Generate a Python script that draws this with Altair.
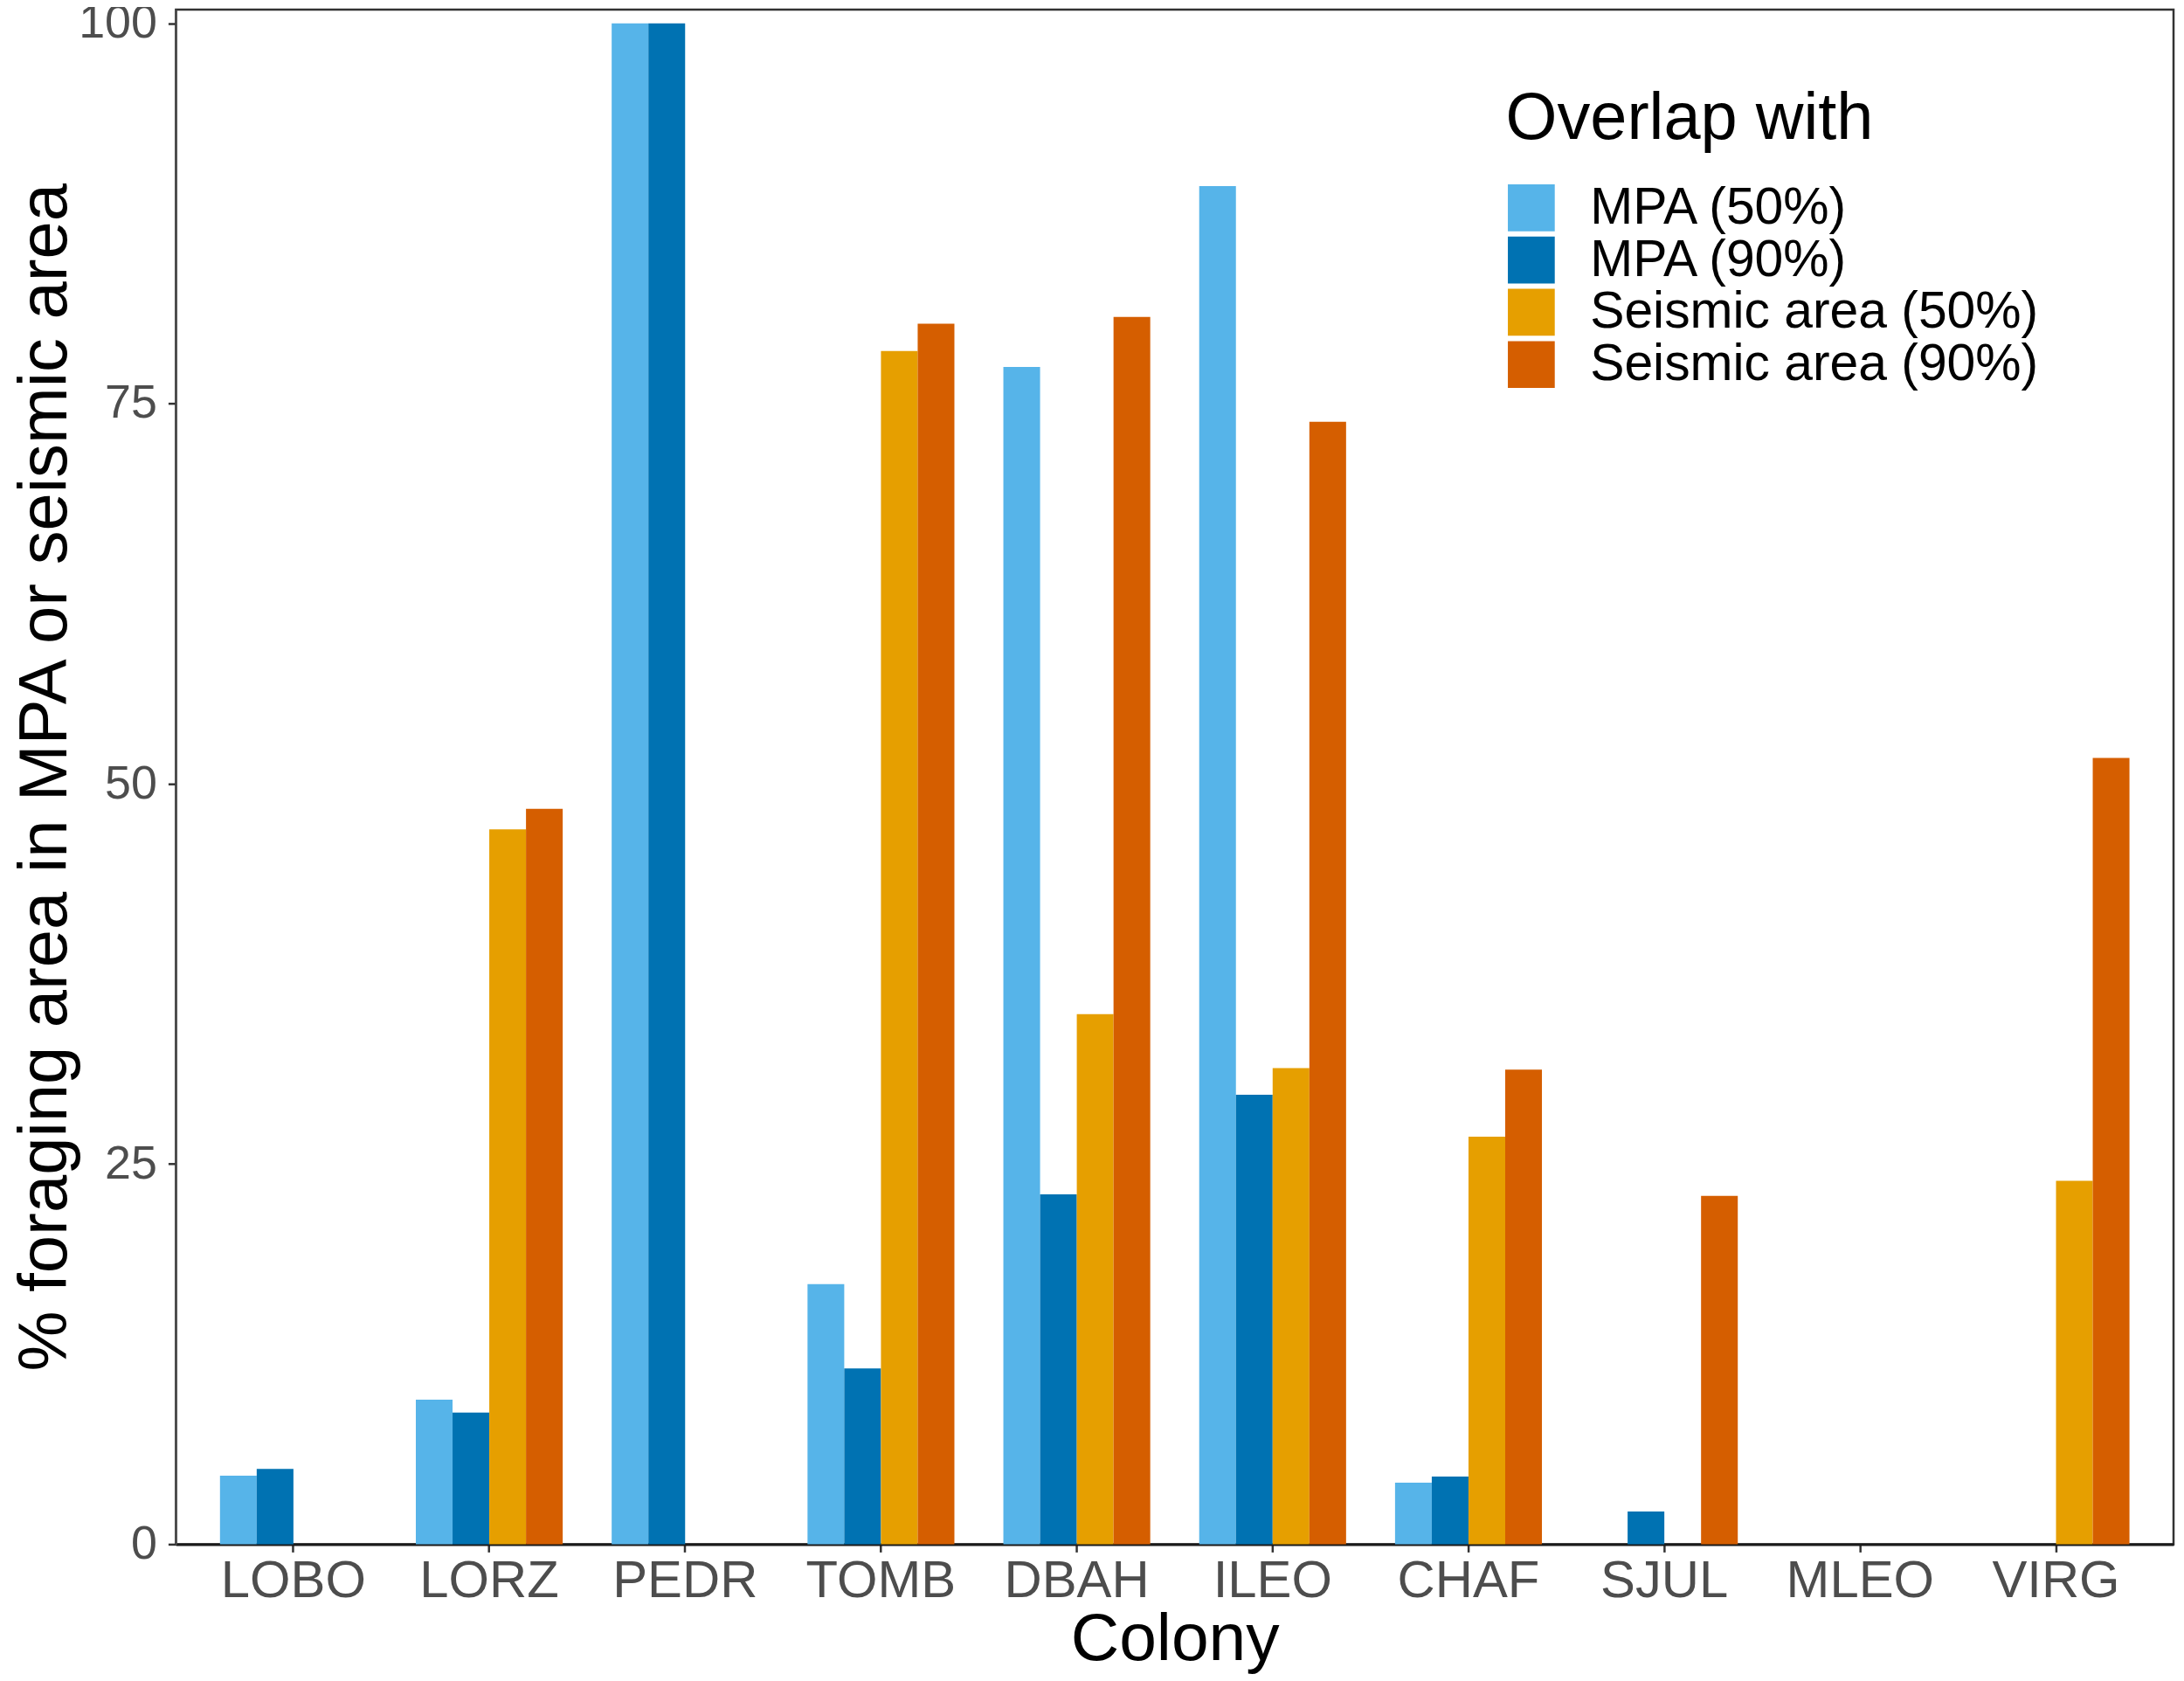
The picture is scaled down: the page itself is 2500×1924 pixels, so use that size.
import altair as alt
import pandas as pd

colonies = ["LOBO", "LORZ", "PEDR", "TOMB", "DBAH", "ILEO", "CHAF", "SJUL", "MLEO", "VIRG"]
groups = ["MPA (50%)", "MPA (90%)", "Seismic area (50%)", "Seismic area (90%)"]
colors = ["#56B4E9", "#0072B2", "#E69F00", "#D55E00"]

mpa50 = [4.5, 9.5, 100.0, 17.1, 77.4, 89.3, 4.05, 0.0, 0.0, 0.0]
mpa90 = [4.95, 8.65, 100.0, 11.55, 23.0, 29.55, 4.45, 2.15, 0.0, 0.0]
seis50 = [0.0, 47.0, 0.0, 78.45, 34.85, 31.3, 26.8, 0.0, 0.0, 23.9]
seis90 = [0.0, 48.35, 0.0, 80.25, 80.7, 73.8, 31.2, 22.9, 0.0, 51.7]

series = [mpa50, mpa90, seis50, seis90]
rows = []
for g, vals in zip(groups, series):
    for c, v in zip(colonies, vals):
        rows.append({"Colony": c, "Overlap": g, "value": v})
df = pd.DataFrame(rows)

FONT = "Liberation Sans"

chart = alt.Chart(df).mark_bar(strokeWidth=0).encode(
    x=alt.X("Colony:N", sort=colonies,
            scale=alt.Scale(paddingInner=0.25, paddingOuter=0.225),
            axis=alt.Axis(title="Colony", labelAngle=0, labelFontSize=60, labelColor="#4D4D4D",
                          labelPadding=4, tickSize=9, tickWidth=2.5, tickColor="#333333",
                          domainColor="#1a1a1a", domainWidth=3, titleFontSize=77,
                          titleFontWeight="normal", titleColor="#000000", titlePadding=0,
                          grid=False)),
    xOffset=alt.XOffset("Overlap:N", sort=groups,
                        scale=alt.Scale(domain=groups, paddingInner=0, paddingOuter=0)),
    y=alt.Y("value:Q", scale=alt.Scale(domain=[0, 100.9], nice=False, zero=True),
            axis=alt.Axis(title="% foraging area in MPA or seismic area", values=[0, 25, 50, 75, 100],
                          labelFontSize=54, labelColor="#4D4D4D", labelPadding=13,
                          tickSize=9, tickWidth=2.5, tickColor="#333333",
                          domainColor="#4D4D4D", domainWidth=2, titleFontSize=78,
                          titleFontWeight="normal", titleColor="#000000", titlePadding=-2,
                          grid=False)),
    color=alt.Color("Overlap:N", sort=groups,
                    scale=alt.Scale(domain=groups, range=colors),
                    legend=alt.Legend(title="Overlap with", orient="none", legendX=1527, legendY=88,
                                      titleFontSize=76, titleFontWeight="normal", titleColor="#000000",
                                      titlePadding=34, labelFontSize=59, labelColor="#000000",
                                      labelOffset=38, symbolType="square", symbolSize=2900,
                                      symbolStrokeWidth=0, symbolOpacity=1, rowPadding=0,
                                      labelLimit=900, titleLimit=900,
                                      labelFont=FONT, titleFont=FONT)),
).properties(
    width=2294, height=1762,
    autosize=alt.AutoSizeParams(type="none"),
    padding={"left": 194, "top": 0, "right": 4, "bottom": 146}
).configure(
    font=FONT
).configure_view(
    stroke="#333333", strokeWidth=2.5
).configure_axis(
    labelFont=FONT, titleFont=FONT
)

chart.save("out.html", embed_options={"renderer": "svg", "actions": False})
